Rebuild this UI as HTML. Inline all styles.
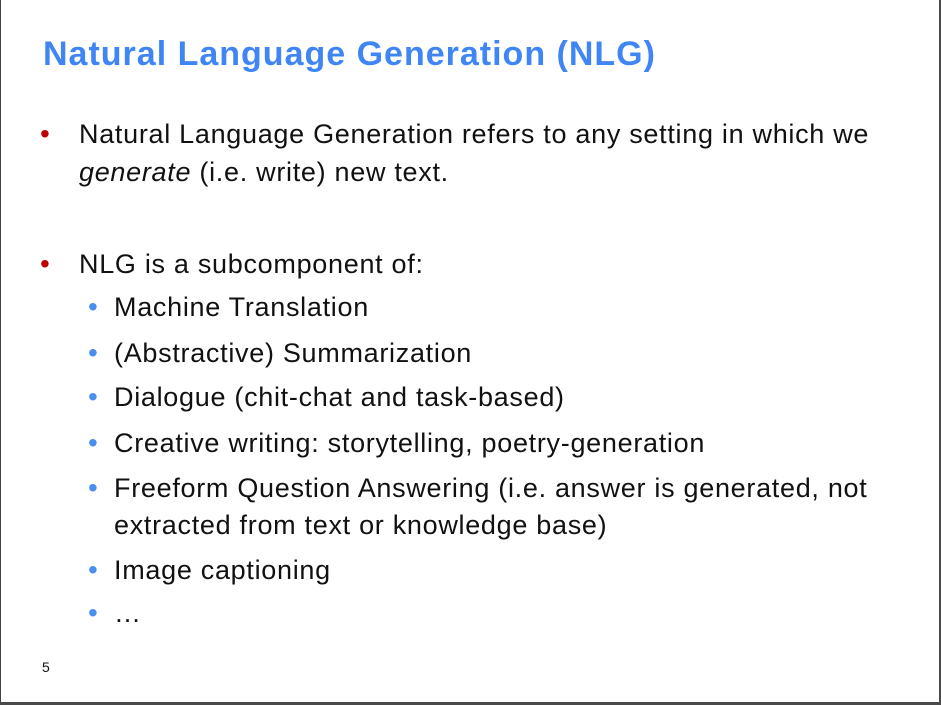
<!DOCTYPE html>
<html><head><meta charset="utf-8"><style>
body{margin:0;width:941px;height:705px;overflow:hidden;background:#fff;font-family:"Liberation Sans",sans-serif;}
#slide{position:absolute;left:0;top:0;width:941px;height:705px;box-sizing:border-box;border-left:1px solid #444;border-right:2px solid #4a4a4a;border-bottom:3px solid #4a4a4a;}
.t{position:absolute;white-space:nowrap;line-height:30px;font-size:27px;letter-spacing:0.7px;color:#111;}
.b1{position:absolute;color:#c00000;font-size:28px;line-height:30px;}
.b2{position:absolute;color:#4a8ef0;font-size:28px;line-height:30px;}
#title{position:absolute;left:42px;top:34px;font-size:34px;font-weight:bold;color:#3f86f4;white-space:nowrap;line-height:40px;letter-spacing:1.0px;}
</style></head><body>
<div id="slide">
<div id="title">Natural Language Generation (NLG)</div>
<div class="b1" style="left:39px;top:119px">•</div>
<div class="t" style="left:78px;top:119px">Natural Language Generation refers to any setting in which we</div>
<div class="t" style="left:78px;top:157px"><i>generate</i> (i.e. write) new text.</div>
<div class="b1" style="left:39px;top:249px">•</div>
<div class="t" style="left:78px;top:249px">NLG is a subcomponent of:</div>
<div class="b2" style="left:87px;top:292px">•</div>
<div class="t" style="left:113px;top:292px">Machine Translation</div>
<div class="b2" style="left:87px;top:338px">•</div>
<div class="t" style="left:113px;top:338px">(Abstractive) Summarization</div>
<div class="b2" style="left:87px;top:382px">•</div>
<div class="t" style="left:113px;top:382px">Dialogue (chit-chat and task-based)</div>
<div class="b2" style="left:87px;top:428px">•</div>
<div class="t" style="left:113px;top:428px">Creative writing: storytelling, poetry-generation</div>
<div class="b2" style="left:87px;top:473px">•</div>
<div class="t" style="left:113px;top:473px">Freeform Question Answering (i.e. answer is generated, not</div>
<div class="t" style="left:113px;top:510px">extracted from text or knowledge base)</div>
<div class="b2" style="left:87px;top:555px">•</div>
<div class="t" style="left:113px;top:555px">Image captioning</div>
<div class="b2" style="left:87px;top:598px">•</div>
<div class="t" style="left:113px;top:598px">…</div>
<div class="t" style="left:41px;top:657px;font-size:14px;line-height:20px;letter-spacing:0">5</div>
</div>
</body></html>
